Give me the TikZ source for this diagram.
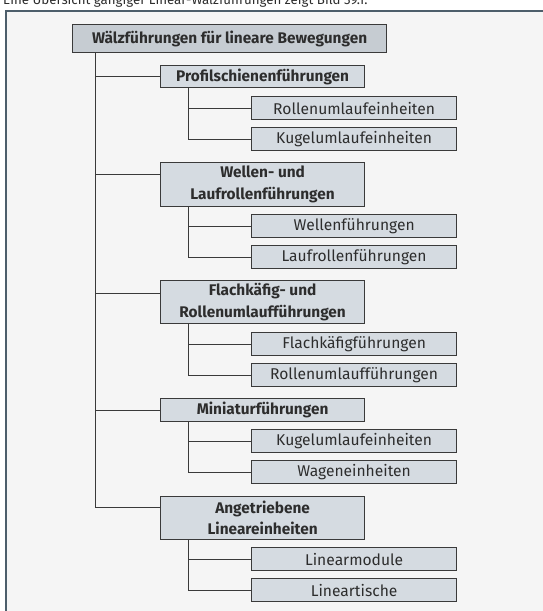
\documentclass[tikz,border=0pt]{standalone}
\usepackage{fontspec}
\setmainfont{Fira Sans}
\usepackage{xcolor}
\usetikzlibrary{positioning, calc}
\definecolor{panelgray}{RGB}{245, 245, 245}
\definecolor{panelline}{RGB}{77, 94, 107}
\definecolor{boxfill}{RGB}{213, 219, 225}
\definecolor{rootfill}{RGB}{198, 204, 210}
\definecolor{edgegray}{RGB}{58, 58, 58}
\definecolor{textgray}{RGB}{45, 45, 45}

\begin{document}
\begin{tikzpicture}[
    x=1pt, y=-1pt,
    box/.style={draw=edgegray, line width=1.2pt, fill=boxfill, anchor=north west,
                inner sep=0pt, align=center, text=textgray,
                font=\fontsize{15.6}{21.5}\selectfont},
    rootbox/.style={box, fill=rootfill, minimum width=314pt, minimum height=28pt,
                    font=\fontsize{15.4}{21.5}\selectfont\bfseries},
    groupbox/.style={box, minimum width=204pt, font=\fontsize{15.4}{21.5}\selectfont\bfseries},
    leafbox/.style={box, minimum width=205pt, minimum height=23pt},
    link/.style={draw=edgegray, line width=1pt}
]
    \useasboundingbox (0,0) rectangle (543,611);
    \fill[panelgray] (5,10.5) rectangle (543,611);
    \draw[panelline, line width=2pt] (6,611) -- (6,10.5) -- (543,10.5);

    % cut-off caption line above the panel
    \node[anchor=base west, inner sep=0pt, text=textgray, font=\fontsize{13.3}{15}\selectfont]
        (caption) at (3,4.5) {Eine Übersicht gängiger Linear-Wälzführungen zeigt Bild 39.1.};

    \node[rootbox] (root) at (72,24) {Wälzführungen für lineare Bewegungen};

    % main groups
    \node[groupbox, minimum height=22pt] (p1) at (160,65) {Profilschienenführungen};
    \node[groupbox, minimum height=44pt] (p2) at (160,162) {Wellen- und\\Laufrollenführungen};
    \node[groupbox, minimum height=43pt] (p3) at (160,280) {Flachkäfig- und\\Rollenumlaufführungen};
    \node[groupbox, minimum height=23pt] (p4) at (160,398) {Miniaturführungen};
    \node[groupbox, minimum height=43pt] (p5) at (160,496) {Angetriebene\\Lineareinheiten};

    % leaves
    \node[leafbox] (p1a) at (251,96)  {Rollenumlaufeinheiten};
    \node[leafbox] (p1b) at (251,127) {Kugelumlaufeinheiten};
    \node[leafbox] (p2a) at (251,214) {Wellenführungen};
    \node[leafbox] (p2b) at (251,245) {Laufrollenführungen};
    \node[leafbox] (p3a) at (251,332) {Flachkäfigführungen};
    \node[leafbox] (p3b) at (251,363) {Rollenumlaufführungen};
    \node[leafbox] (p4a) at (251,429) {Kugelumlaufeinheiten};
    \node[leafbox] (p4b) at (251,460) {Wageneinheiten};
    \node[leafbox] (p5a) at (251,547) {Linearmodule};
    \node[leafbox] (p5b) at (251,578) {Lineartische};

    % trunk and branches
    \coordinate (trunk) at ($(root.south west)+(23,0)$);
    \coordinate (p1in) at ($(p1.north west)+(0,11)$);
    \coordinate (p2in) at ($(p2.north west)+(0,12)$);
    \coordinate (p3in) at ($(p3.north west)+(0,13)$);
    \coordinate (p4in) at ($(p4.north west)+(0,12)$);
    \coordinate (p5in) at ($(p5.north west)+(0,11)$);
    \draw[link] (trunk) |- (p5in);
    \draw[link] (trunk |- p1in) -- (p1in);
    \draw[link] (trunk |- p2in) -- (p2in);
    \draw[link] (trunk |- p3in) -- (p3in);
    \draw[link] (trunk |- p4in) -- (p4in);

    \draw[link] ($(p1.south west)+(28,0)$) |- (p1a.west);
    \draw[link] ($(p1.south west)+(28,0)$) |- (p1b.west);
    \draw[link] ($(p2.south west)+(28,0)$) |- (p2a.west);
    \draw[link] ($(p2.south west)+(28,0)$) |- (p2b.west);
    \draw[link] ($(p3.south west)+(28,0)$) |- (p3a.west);
    \draw[link] ($(p3.south west)+(28,0)$) |- (p3b.west);
    \draw[link] ($(p4.south west)+(28,0)$) |- (p4a.west);
    \draw[link] ($(p4.south west)+(28,0)$) |- (p4b.west);
    \draw[link] ($(p5.south west)+(28,0)$) |- (p5a.west);
    \draw[link] ($(p5.south west)+(28,0)$) |- (p5b.west);
\end{tikzpicture}
\end{document}
